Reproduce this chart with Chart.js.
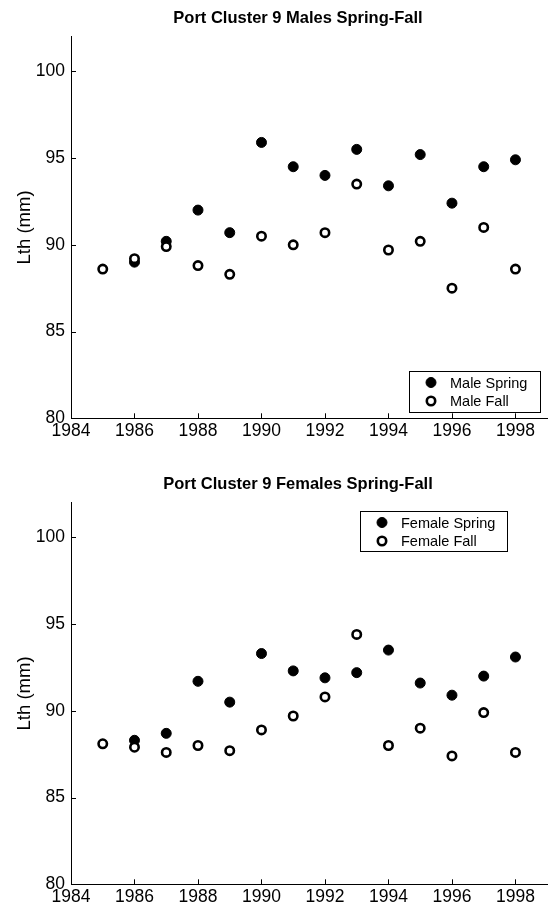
<!DOCTYPE html>
<html>
<head>
<meta charset="utf-8">
<script src="https://cdn.jsdelivr.net/npm/chart.js@4/dist/chart.umd.min.js"></script>
<style>
html, body { margin: 0; padding: 0; background: #fff; width: 548px; height: 911px; overflow: hidden; }
.panel { position: absolute; left: 0; width: 554px; height: 445px; }
#p1 { top: 0; }
#p2 { top: 466px; }
</style>
</head>
<body>
<div class="panel" id="p1"><canvas id="c1" width="554" height="445"></canvas></div>
<div class="panel" id="p2"><canvas id="c2" width="554" height="445"></canvas></div>
<script>
// Lth (mm) by year, spring vs fall
const FALL_YEARS = [1985, 1986, 1987, 1988, 1989, 1990, 1991, 1992, 1993, 1994, 1995, 1996, 1997, 1998];
const SPRING_YEARS = [1986, 1987, 1988, 1989, 1990, 1991, 1992, 1993, 1994, 1995, 1996, 1997, 1998];

const MALE_SPRING = [89.0, 90.2, 92.0, 90.7, 95.9, 94.5, 94.0, 95.5, 93.4, 95.2, 92.4, 94.5, 94.9];
const MALE_FALL = [88.6, 89.2, 89.9, 88.8, 88.3, 90.5, 90.0, 90.7, 93.5, 89.7, 90.2, 87.5, 91.0, 88.6];
const FEMALE_SPRING = [88.3, 88.7, 91.7, 90.5, 93.3, 92.3, 91.9, 92.2, 93.5, 91.6, 90.9, 92.0, 93.1];
const FEMALE_FALL = [88.1, 87.9, 87.6, 88.0, 87.7, 88.9, 89.7, 90.8, 94.4, 88.0, 89.0, 87.4, 89.9, 87.6];

const X_TICKS = [1984, 1986, 1988, 1990, 1992, 1994, 1996, 1998];
const Y_TICKS = [80, 85, 90, 95, 100];

const FONT = '"Liberation Sans", Arial, Helvetica, sans-serif';
const pts = (xs, ys) => xs.map((x, i) => ({ x, y: ys[i] }));

// MATLAB-ish decorations: inward ticks, title, legend box inside the axes
const deco = {
  id: "deco",
  afterDraw(chart, args, o) {
    const { ctx, chartArea: a, scales: { x, y } } = chart;
    ctx.save();
    ctx.strokeStyle = "#000";
    ctx.lineWidth = 1;
    ctx.beginPath();
    x.ticks.forEach((t) => {
      const px = Math.round(x.getPixelForValue(t.value)) + 0.5;
      ctx.moveTo(px, a.bottom); ctx.lineTo(px, a.bottom - 5);
    });
    y.ticks.forEach((t) => {
      const py = Math.round(y.getPixelForValue(t.value)) + 0.5;
      ctx.moveTo(a.left, py); ctx.lineTo(a.left + 5, py);
    });
    ctx.stroke();

    ctx.fillStyle = "#000";
    ctx.font = "bold 16.5px " + FONT;
    ctx.textAlign = "center";
    ctx.textBaseline = "middle";
    ctx.fillText(o.title, o.titleX, o.titleY);

    const L = o.legend;
    ctx.fillStyle = "#fff";
    ctx.fillRect(L.x, L.y, L.w, L.h);
    ctx.strokeRect(L.x + 0.5, L.y + 0.5, L.w, L.h);
    ctx.font = "14.5px " + FONT;
    ctx.textAlign = "left";
    L.order.forEach((di, row) => {
      const ds = chart.data.datasets[di];
      const cy = L.y + L.rows[row];
      ctx.fillStyle = ds.backgroundColor;
      ctx.strokeStyle = ds.borderColor;
      ctx.lineWidth = ds.borderWidth;
      Chart.helpers.drawPoint(ctx, { pointStyle: "circle", radius: ds.pointRadius, borderWidth: ds.borderWidth, rotation: 0 }, L.x + 22, cy);
      ctx.fillStyle = "#000";
      ctx.fillText(ds.label, L.x + 41, cy + 1);
    });
    ctx.restore();
  },
};

function makeChart(id, title, spring, fall, labels, legend) {
  return new Chart(document.getElementById(id), {
    type: "scatter",
    data: {
      datasets: [
        { label: labels[0], data: pts(SPRING_YEARS, spring), order: 1,
          backgroundColor: "#000", borderColor: "#000", borderWidth: 1, pointRadius: 5, pointHoverRadius: 5 },
        { label: labels[1], data: pts(FALL_YEARS, fall), order: 0,
          backgroundColor: "#fff", borderColor: "#000", borderWidth: 2.6, pointRadius: 4.2, pointHoverRadius: 4.2 },
      ],
    },
    options: {
      responsive: false, animation: false, events: [],
      layout: { padding: { top: 36.6, right: 1, bottom: 0, left: 0 } },
      plugins: {
        legend: { display: false }, tooltip: { enabled: false }, title: { display: false },
        deco: { title, titleX: 298, titleY: 18.5, legend },
      },
      scales: {
        x: {
          type: "linear", position: "bottom", min: 1984, max: 1999,
          grid: { display: false, drawTicks: false, tickLength: 0 },
          border: { display: true, color: "#000", width: 1 },
          ticks: { color: "#000", font: { family: FONT, size: 17.5 }, padding: 2, maxRotation: 0, autoSkip: false,
            callback: (v) => String(v) },
          afterBuildTicks: (s) => { s.ticks = X_TICKS.map((v) => ({ value: v })); },
          afterFit: (s) => { s.height = 26.7; },
        },
        y: {
          type: "linear", position: "left", min: 80, max: 102,
          grid: { display: false, drawTicks: false, tickLength: 0 },
          border: { display: true, color: "#000", width: 1 },
          ticks: { color: "#000", font: { family: FONT, size: 17.5 }, padding: 6, callback: (v) => String(v) },
          afterBuildTicks: (s) => { s.ticks = Y_TICKS.map((v) => ({ value: v })); },
          afterFit: (s) => { s.width = 71; },
          title: { display: true, text: "Lth (mm)", color: "#000", font: { family: FONT, size: 18.5 }, padding: { top: 14, bottom: 0 } },
        },
      },
    },
    plugins: [deco],
  });
}

makeChart("c1", "Port Cluster 9 Males Spring-Fall", MALE_SPRING, MALE_FALL, ["Male Spring", "Male Fall"],
  { x: 409, y: 371, w: 131, h: 41, rows: [11.5, 30], order: [0, 1] });
makeChart("c2", "Port Cluster 9 Females Spring-Fall", FEMALE_SPRING, FEMALE_FALL, ["Female Spring", "Female Fall"],
  { x: 360, y: 45, w: 147, h: 40, rows: [11.5, 30], order: [0, 1] });
</script>
</body>
</html>
